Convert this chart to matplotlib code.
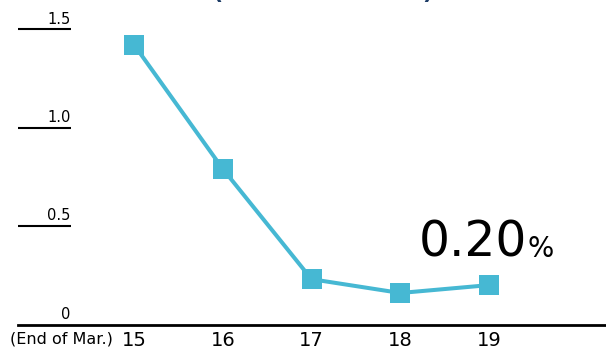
import matplotlib
matplotlib.use("Agg")
import matplotlib.pyplot as plt
from matplotlib.transforms import offset_copy, blended_transform_factory

# fiscal years (end of March) and ratio in %
years = [15, 16, 17, 18, 19]
year_labels = ["15", "16", "17", "18", "19"]
ratio = [1.42, 0.79, 0.23, 0.16, 0.20]
y_ticks = [0.5, 1.0, 1.5]
y_tick_labels = ["0.5", "1.0", "1.5"]

line_color = "#46b8d3"
navy = "#1d3c66"

plt.rcParams["font.family"] = ["DejaVu Sans"]

W, H = 606, 350
fig = plt.figure(figsize=(W / 100, H / 100), dpi=100)
fig.patch.set_facecolor("white")

left_px, bottom_px, top_px = 17.5, 324.5, 29
ax = fig.add_axes([left_px / W, 1 - bottom_px / H, 1 - left_px / W, (bottom_px - top_px) / H])
ax.set_xlim(13.687, 20.318)
ax.set_ylim(0, 1.5)

ax.plot(years, ratio, color=line_color, lw=2.9, marker="s", ms=14.4, mew=0,
        mfc=line_color, solid_joinstyle="miter", zorder=3)

# axis styling: only a bottom rule, big year labels
for s in ["left", "right", "top"]:
    ax.spines[s].set_visible(False)
ax.spines["bottom"].set_linewidth(2)
ax.spines["bottom"].set_color("black")
ax.set_yticks([])
ax.set_xticks(years)
ax.set_xticklabels(year_labels, fontsize=14)
ax.tick_params(axis="x", length=0, pad=4.5)

# short rules with value labels on the left
tick_end = (70.5 - left_px) / (W - left_px)
trans = blended_transform_factory(ax.transAxes, ax.transData)
for v in y_ticks:
    ax.plot([0, tick_end], [v, v], color="black", lw=1.5, transform=trans,
            clip_on=False, solid_capstyle="butt")
for v, lab in zip([0] + y_ticks, ["0"] + y_tick_labels):
    ax.text(tick_end, v, lab, fontsize=10.5, ha="right", va="baseline",
            transform=offset_copy(trans, fig=fig, x=0, y=5.5, units="dots"))

ax.text(112.7 / W, 1 - 344 / H, "(End of Mar.)", fontsize=11.5,
        ha="right", va="baseline", transform=fig.transFigure)

# latest value callout
last_val = ratio[-1]
ax.annotate(f"{last_val:.2f}", xy=(years[-1], last_val), xytext=(27.5, 20.5),
            textcoords="offset points", fontsize=35, ha="right", va="baseline")
ax.annotate("%", xy=(years[-1], last_val), xytext=(28, 20.5),
            textcoords="offset points", fontsize=20, ha="left", va="baseline")

# heading sits above the visible area; only its parentheses dip in
fig.text(217 / W, 1 + 1.2 / H, "(", fontsize=16, fontweight="bold", color=navy,
         ha="center", va="baseline")
fig.text(427 / W, 1 + 1.2 / H, ")", fontsize=16, fontweight="bold", color=navy,
         ha="center", va="baseline")

fig.savefig("out.png", dpi=100, facecolor="white")
